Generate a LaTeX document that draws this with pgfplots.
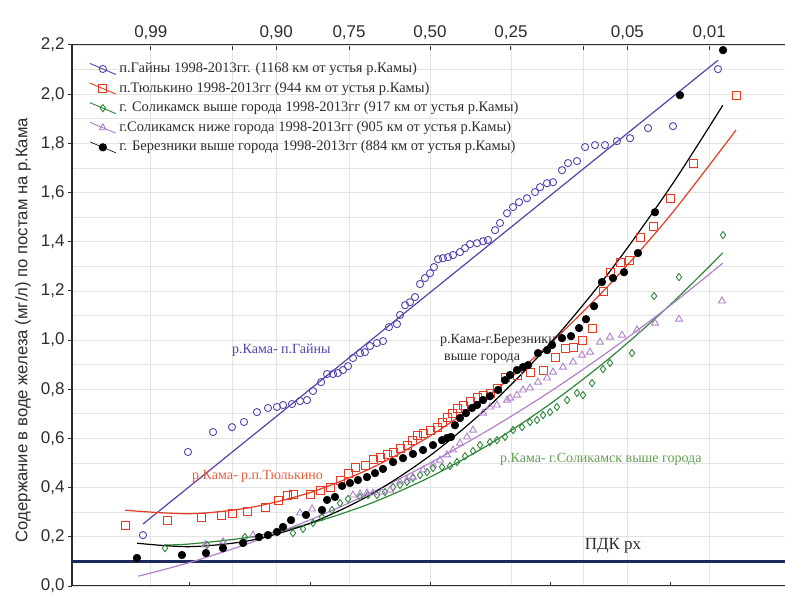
\documentclass[border=0pt]{standalone}
\usepackage{fontspec}
\setmainfont{Liberation Serif}
\newfontfamily\sansf{Liberation Sans}
\usepackage{pgfplots}
\pgfplotsset{compat=1.18}

\definecolor{cgain}{RGB}{85,65,175}
\definecolor{ctyul}{RGB}{232,58,35}
\definecolor{cgreen}{RGB}{45,135,55}
\definecolor{cviol}{RGB}{178,128,205}
\definecolor{cpdk}{RGB}{28,42,90}
\definecolor{cgrid}{RGB}{228,228,228}
\definecolor{cax}{RGB}{45,45,45}
\definecolor{ctyulT}{RGB}{232,95,60}
\definecolor{cgreenT}{RGB}{95,160,80}

\pgfplotstableread{
x y
-2.392 0.207
-2.017 0.545
-1.808 0.626
-1.650 0.646
-1.550 0.667
-1.442 0.707
-1.350 0.724
-1.275 0.728
-1.225 0.736
-1.150 0.740
-1.083 0.752
-1.025 0.756
-0.975 0.793
-0.908 0.829
-0.858 0.862
-0.808 0.862
-0.767 0.866
-0.725 0.878
-0.683 0.894
-0.642 0.927
-0.583 0.947
-0.542 0.951
-0.500 0.976
-0.442 0.988
-0.392 0.996
-0.342 1.053
-0.275 1.065
-0.250 1.102
-0.208 1.142
-0.167 1.154
-0.125 1.175
-0.083 1.228
-0.042 1.252
0.000 1.272
0.033 1.297
0.067 1.329
0.108 1.333
0.150 1.337
0.192 1.346
0.250 1.358
0.292 1.374
0.333 1.390
0.392 1.394
0.442 1.402
0.483 1.407
0.542 1.447
0.583 1.476
0.642 1.516
0.692 1.541
0.742 1.561
0.808 1.577
0.875 1.602
0.917 1.622
0.975 1.638
1.025 1.642
1.100 1.691
1.150 1.720
1.225 1.728
1.292 1.785
1.375 1.793
1.458 1.793
1.558 1.809
1.667 1.821
1.817 1.862
2.025 1.870
2.400 2.102
}\gainy

\pgfplotstableread{
x y
-2.542 0.248
-2.192 0.268
-1.908 0.280
-1.742 0.285
-1.650 0.297
-1.525 0.305
-1.375 0.321
-1.267 0.346
-1.192 0.370
-1.142 0.374
-1.000 0.374
-0.917 0.390
-0.833 0.402
-0.750 0.431
-0.683 0.459
-0.625 0.484
-0.542 0.492
-0.475 0.516
-0.417 0.524
-0.358 0.533
-0.308 0.545
-0.250 0.561
-0.192 0.573
-0.150 0.593
-0.108 0.614
-0.058 0.622
0.000 0.634
0.058 0.646
0.100 0.667
0.142 0.687
0.183 0.703
0.225 0.720
0.275 0.736
0.333 0.752
0.392 0.768
0.442 0.776
0.500 0.785
0.558 0.805
0.625 0.850
0.725 0.858
0.833 0.870
0.942 0.878
1.042 0.931
1.125 0.967
1.192 0.972
1.267 1.000
1.350 1.049
1.442 1.199
1.500 1.276
1.583 1.317
1.658 1.325
1.750 1.419
1.858 1.463
2.000 1.577
2.192 1.720
2.550 1.996
}\tyul

\pgfplotstableread{
x y
-2.208 0.154
-1.858 0.167
-1.725 0.179
-1.542 0.199
-1.142 0.215
-1.058 0.232
-0.975 0.256
-0.900 0.280
-0.817 0.309
-0.750 0.337
-0.683 0.354
-0.583 0.362
-0.517 0.370
-0.442 0.370
-0.375 0.382
-0.308 0.402
-0.250 0.411
-0.192 0.423
-0.142 0.439
-0.083 0.451
-0.025 0.463
0.025 0.480
0.100 0.484
0.167 0.488
0.225 0.504
0.292 0.528
0.358 0.549
0.417 0.573
0.500 0.585
0.558 0.593
0.625 0.606
0.692 0.634
0.767 0.646
0.833 0.667
0.892 0.675
0.942 0.695
1.000 0.707
1.058 0.728
1.142 0.756
1.225 0.785
1.275 0.776
1.350 0.825
1.442 0.882
1.500 0.907
1.683 0.947
1.867 1.179
2.075 1.256
2.442 1.427
}\solup

\pgfplotstableread{
x y
-1.875 0.167
-1.725 0.179
-1.475 0.207
-1.083 0.297
-0.983 0.313
-0.642 0.370
-0.583 0.374
-0.525 0.378
-0.475 0.378
-0.400 0.382
-0.333 0.390
-0.250 0.423
-0.192 0.431
-0.142 0.443
-0.058 0.472
0.025 0.492
0.083 0.512
0.142 0.533
0.192 0.553
0.250 0.581
0.308 0.606
0.358 0.634
0.442 0.703
0.500 0.728
0.558 0.736
0.642 0.756
0.667 0.764
0.725 0.776
0.775 0.797
0.833 0.805
0.900 0.829
0.975 0.846
1.025 0.870
1.108 0.890
1.192 0.911
1.267 0.939
1.333 0.951
1.417 0.992
1.500 1.012
1.600 1.020
1.725 1.041
1.875 1.069
2.075 1.085
2.433 1.159
}\soldown

\pgfplotstableread{
x y
-2.442 0.114
-2.067 0.126
-1.867 0.134
-1.725 0.154
-1.558 0.175
-1.425 0.199
-1.350 0.207
-1.275 0.220
-1.225 0.240
-1.158 0.268
-1.033 0.289
-0.900 0.309
-0.858 0.350
-0.792 0.362
-0.733 0.407
-0.667 0.419
-0.600 0.431
-0.525 0.443
-0.458 0.459
-0.392 0.476
-0.308 0.504
-0.225 0.520
-0.142 0.537
-0.058 0.553
0.025 0.573
0.100 0.593
0.142 0.602
0.175 0.606
0.208 0.654
0.250 0.683
0.300 0.703
0.350 0.724
0.392 0.736
0.442 0.756
0.500 0.772
0.567 0.797
0.625 0.837
0.667 0.858
0.725 0.878
0.775 0.890
0.817 0.898
0.900 0.947
0.975 0.959
1.017 0.980
1.100 1.008
1.175 1.016
1.242 1.049
1.300 1.085
1.367 1.138
1.433 1.236
1.525 1.252
1.617 1.276
1.733 1.354
1.875 1.520
2.083 1.996
2.442 2.179
}\berez

\begin{document}
\begin{tikzpicture}
\pgfplotsset{base/.style={scale only axis, width=713pt, height=541pt,
  xmin=-2.9833, xmax=2.9583, ymin=0, ymax=2.2}}

% top probability axis
\begin{axis}[base, axis x line*=top, axis y line=none,
  axis line style={-, line width=1.3pt, cax},
  xtick={-2.3263,-1.6449,-1.2816,-0.6745,0,0.6745,1.2816,1.6449,2.3263},
  xticklabels={{0,99},{},{0,90},{0,75},{0,50},{0,25},{},{0,05},{0,01}},
  xmajorgrids, major grid style={cgrid, line width=0.8pt},
  tick align=inside, major tick length=5pt, tick style={cax, line width=1pt},
  xticklabel style={font=\sansf\fontsize{17}{17}\selectfont, text=cax, yshift=2pt}]
\end{axis}

% bottom axis (ticks only, no labels)
\begin{axis}[base, axis x line*=bottom, axis y line=none,
  axis line style={-, line width=1.3pt, cax},
  xtick={-2,-1,0,1,2}, xticklabels={{},{},{},{},{}},
  tick align=inside, major tick length=4pt, tick style={cax, line width=1pt}]
\end{axis}

% main axis with data
\begin{axis}[base, axis x line=none, axis y line*=left,
  axis line style={-, line width=1.3pt, cax},
  ytick={0,0.2,0.4,0.6,0.8,1.0,1.2,1.4,1.6,1.8,2.0,2.2},
  minor ytick={0.1,0.3,0.5,0.7,0.9,1.1,1.3,1.5,1.7,1.9,2.1},
  ymajorgrids, yminorgrids, grid style={cgrid, line width=0.8pt},
  minor tick length=0pt,
  tick align=outside, major tick length=4pt, tick style={cax, line width=1pt},
  yticklabel style={font=\sansf\fontsize{17}{17}\selectfont, text=cax,
    /pgf/number format/.cd, use comma, fixed, fixed zerofill, precision=1, assume math mode=true},
  ylabel={Содержание в воде железа (мг/л) по постам на р.Кама},
  ylabel style={font=\sansf\fontsize{16.7}{16.7}\selectfont, text=cax,
    at={(axis description cs:-0.0687,0.473)}, anchor=center},
  clip=false,
  legend cell align=left,
  legend style={draw=none, fill=none, at={(axis cs:-2.84,2.138)}, anchor=north west,
    inner sep=0pt, row sep=2.6pt, font=\fontsize{14.5}{14.5}\selectfont, text=cax,
    nodes={inner sep=1pt, text height=11pt, text depth=4pt},
    /tikz/every odd column/.append style={column sep=2pt}},
  legend image code/.code={\draw[#1, mark=none] (0pt,5.5pt) -- (26pt,-5.5pt);
    \draw[#1] plot coordinates {(13pt,0pt)};},
]
% PDK line
\addplot[cpdk, line width=3.5pt, forget plot] coordinates {(-2.9833,0.1) (2.9583,0.1)};

% fitted curves
\addplot[cgain, line width=1.2pt, forget plot] coordinates {(-2.392,0.252) (2.400,2.138)};
\addplot[ctyul, line width=1.2pt, smooth, forget plot] coordinates {
 (-2.54,0.308) (-2.0,0.294) (-1.5,0.319) (-1.0,0.380) (-0.5,0.477) (0,0.610)
 (0.5,0.780) (1.0,0.986) (1.5,1.228) (2.0,1.506) (2.55,1.854)};
\addplot[cgreen, line width=1.2pt, smooth, forget plot] coordinates {
 (-2.21,0.167) (-2.0,0.171) (-1.5,0.199) (-1.0,0.254) (-0.5,0.335) (0,0.443)
 (0.5,0.578) (1.0,0.740) (1.5,0.928) (2.0,1.143) (2.44,1.355)};
\addplot[cviol, line width=1.2pt, smooth, forget plot] coordinates {
 (-2.43,0.040) (-2.0,0.096) (-1.5,0.175) (-1.0,0.269) (-0.5,0.377) (0,0.500)
 (0.5,0.638) (1.0,0.790) (1.5,0.958) (2.0,1.140) (2.44,1.313)};
\addplot[black, line width=1.2pt, smooth, forget plot] coordinates {
 (-2.44,0.174) (-2.0,0.160) (-1.5,0.185) (-1.0,0.255) (-0.5,0.370) (0,0.530)
 (0.5,0.735) (1.0,0.985) (1.5,1.280) (2.0,1.620) (2.44,1.955)};

% observations
\addplot[cgain, only marks, mark=o, mark size=3.6pt, line width=0.9pt] table {\gainy};
\addlegendentry{п.Гайны 1998-2013гг. (1168 км от устья р.Камы)}
\addplot[ctyul, only marks, mark=square, mark size=4pt, line width=0.9pt] table {\tyul};
\addlegendentry{п.Тюлькино 1998-2013гг (944 км от устья р.Камы)}
\addplot[cgreen, only marks, mark=diamond, mark size=3.6pt, line width=0.9pt] table {\solup};
\addlegendentry{г. Соликамск выше города 1998-2013гг (917 км от устья р.Камы)}
\addplot[cviol, only marks, mark=triangle, mark size=4pt, line width=0.9pt] table {\soldown};
\addlegendentry{г.Соликамск ниже города 1998-2013гг (905 км от устья р.Камы)}
\addplot[black, only marks, mark=*, mark size=3.8pt, line width=0.6pt] table {\berez};
\addlegendentry{г. Березники выше города 1998-2013гг (884 км от устья р.Камы)}

% annotations
\node[anchor=west, inner sep=0pt, text=cgain, font=\fontsize{14}{14}\selectfont] at (axis cs:-1.65,0.959) {р.Кама- п.Гайны};
\node[anchor=west, inner sep=0pt, text=ctyulT, font=\fontsize{14}{14}\selectfont] at (axis cs:-1.983,0.447) {р.Кама- р.п.Тюлькино};
\node[anchor=west, inner sep=0pt, align=left, text=cax, font=\fontsize{14}{17}\selectfont] at (axis cs:0.083,0.963) {р.Кама-г.Березники\\\hspace*{4pt}выше города};
\node[anchor=west, inner sep=0pt, text=cgreenT, font=\fontsize{14}{14}\selectfont] at (axis cs:0.583,0.516) {р.Кама- г.Соликамск выше города};
\node[inner sep=0pt, text=cax, font=\fontsize{17}{17}\selectfont] at (axis cs:1.525,0.163) {ПДК рх};
\end{axis}

\pgfresetboundingbox
\path (current axis.south west) ++(-72pt,-9pt) coordinate (bbsw);
\path (current axis.north east) ++(0pt,45pt) coordinate (bbne);
\path[use as bounding box] (bbsw) rectangle (bbne);
\end{tikzpicture}
\end{document}
